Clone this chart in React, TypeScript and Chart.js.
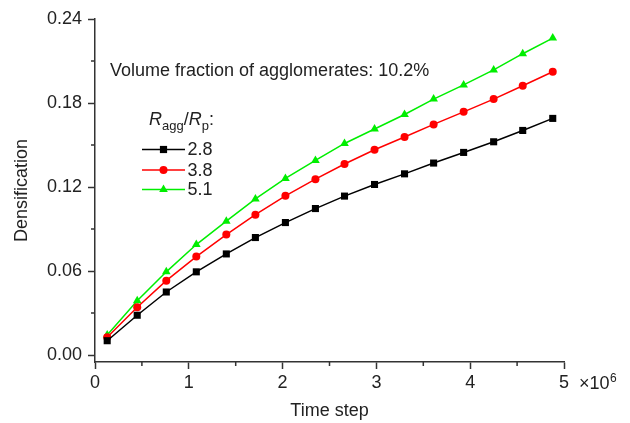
import React, { useEffect, useRef } from 'react';
import { Chart, registerables } from 'chart.js';
Chart.register(...registerables);

// Time step (×10^6)
const timeSteps = [0.13, 0.45, 0.76, 1.08, 1.40, 1.71, 2.03, 2.35, 2.66, 2.98, 3.30, 3.61, 3.93, 4.25, 4.56, 4.88];
// Densification for R_agg/R_p = 2.8, 3.8, 5.1
const dens28 = [0.0102, 0.0284, 0.0450, 0.0594, 0.0722, 0.0839, 0.0946, 0.1046, 0.1135, 0.1218, 0.1294, 0.1371, 0.1447, 0.1523, 0.1604, 0.1690];
const dens38 = [0.0127, 0.0341, 0.0531, 0.0703, 0.0860, 0.1002, 0.1137, 0.1256, 0.1364, 0.1466, 0.1557, 0.1647, 0.1737, 0.1828, 0.1923, 0.2023];
const dens51 = [0.0143, 0.0388, 0.0594, 0.0789, 0.0956, 0.1115, 0.1261, 0.1390, 0.1511, 0.1614, 0.1718, 0.1828, 0.1929, 0.2036, 0.2152, 0.2264];
const seriesLabels = ['2.8', '3.8', '5.1'];
const seriesColors = ['#000000', '#ff0000', '#00ee00'];
const seriesStyles = ['rect', 'circle', 'triangle'];
const yTicks = [0, 0.06, 0.12, 0.18, 0.24];
const yMinor = [0.03, 0.09, 0.15, 0.21];
const xMinor = [0.5, 1.5, 2.5, 3.5, 4.5];
const annotationText = 'Volume fraction of agglomerates: 10.2%';

const FONT_FAMILY = '"Liberation Sans", Arial, sans-serif';
const TEXT_COLOR = '#222222';
const AXIS_COLOR = '#333333';

function drawMarker(ctx: CanvasRenderingContext2D, style: string, x: number, y: number, color: string) {
  ctx.fillStyle = color;
  ctx.beginPath();
  if (style === 'rect') {
    ctx.rect(x - 3.6, y - 3.6, 7.2, 7.2);
  } else if (style === 'circle') {
    ctx.arc(x, y, 4, 0, Math.PI * 2);
  } else {
    const r = 5;
    ctx.moveTo(x, y - r);
    ctx.lineTo(x + r * Math.cos(Math.PI / 6), y + r / 2);
    ctx.lineTo(x - r * Math.cos(Math.PI / 6), y + r / 2);
    ctx.closePath();
  }
  ctx.fill();
}

const overlayPlugin = {
  id: 'overlay',
  afterDraw(chart: any) {
    const ctx: CanvasRenderingContext2D = chart.ctx;
    const xs = chart.scales.x;
    const ys = chart.scales.y;
    const area = chart.chartArea;
    ctx.save();
    // minor ticks
    ctx.strokeStyle = AXIS_COLOR;
    ctx.lineWidth = 1.5;
    ctx.beginPath();
    for (const v of xMinor) {
      const px = xs.getPixelForValue(v);
      ctx.moveTo(px, area.bottom);
      ctx.lineTo(px, area.bottom + 4);
    }
    for (const v of yMinor) {
      const py = ys.getPixelForValue(v);
      ctx.moveTo(area.left, py);
      ctx.lineTo(area.left - 4, py);
    }
    ctx.stroke();

    // ×10^6 next to last x tick
    ctx.fillStyle = TEXT_COLOR;
    ctx.textBaseline = 'alphabetic';
    ctx.textAlign = 'left';
    const x5 = xs.getPixelForValue(5);
    ctx.font = `18px ${FONT_FAMILY}`;
    ctx.fillText('×10', x5 + 15, 389);
    const w10 = ctx.measureText('×10').width;
    ctx.font = `12px ${FONT_FAMILY}`;
    ctx.fillText('6', x5 + 15 + w10 + 0.5, 382);

    // annotation
    ctx.font = `18px ${FONT_FAMILY}`;
    ctx.fillText(annotationText, 110, 75.5);

    // legend title R_agg/R_p:
    let tx = 149;
    const tb = 125;
    const big = `italic 18px ${FONT_FAMILY}`;
    const norm = `18px ${FONT_FAMILY}`;
    const small = `13px ${FONT_FAMILY}`;
    const parts: [string, string, number][] = [
      ['R', big, tb], ['agg', small, tb + 4.5], ['/', norm, tb], ['R', big, tb], ['p', small, tb + 4.5], [':', norm, tb],
    ];
    for (const [t, f, b] of parts) {
      ctx.font = f;
      ctx.fillText(t, tx, b);
      tx += ctx.measureText(t).width;
    }

    // legend entries
    const ly = [149.5, 170, 189.5];
    for (let i = 0; i < seriesLabels.length; i++) {
      ctx.strokeStyle = seriesColors[i];
      ctx.lineWidth = 1.5;
      ctx.beginPath();
      ctx.moveTo(142, ly[i]);
      ctx.lineTo(185, ly[i]);
      ctx.stroke();
      drawMarker(ctx, seriesStyles[i], 163.5, ly[i], seriesColors[i]);
      ctx.fillStyle = TEXT_COLOR;
      ctx.font = `18px ${FONT_FAMILY}`;
      ctx.textBaseline = 'middle';
      ctx.fillText(seriesLabels[i], 187.5, ly[i] + 1);
      ctx.textBaseline = 'alphabetic';
    }
    ctx.restore();
  },
};

export default function App() {
  const canvasRef = useRef<HTMLCanvasElement | null>(null);
  useEffect(() => {
    if (!canvasRef.current) return;
    const font = { family: FONT_FAMILY, size: 18 };
    const allSeries = [dens28, dens38, dens51];
    const chart = new Chart(canvasRef.current, {
      type: 'line',
      data: {
        datasets: allSeries.map((vals, i) => ({
          label: seriesLabels[i],
          data: timeSteps.map((t, j) => ({ x: t, y: vals[j] })),
          borderColor: seriesColors[i],
          backgroundColor: seriesColors[i],
          pointBackgroundColor: seriesColors[i],
          pointBorderColor: seriesColors[i],
          borderWidth: 1.5,
          pointStyle: seriesStyles[i] as any,
          pointRadius: i === 0 ? 5 : i === 1 ? 4 : 5,
          pointBorderWidth: 0,
          tension: 0,
          fill: false,
        })),
      },
      options: {
        animation: false,
        responsive: false,
        devicePixelRatio: 1,
        layout: { padding: { top: 19, right: 66, left: 0, bottom: 0 } },
        plugins: { legend: { display: false }, tooltip: { enabled: false } },
        scales: {
          x: {
            type: 'linear',
            min: 0,
            max: 5,
            afterFit: (s: any) => { s.height = 61; },
            ticks: { stepSize: 1, font, color: TEXT_COLOR, padding: 3, callback: (v: any) => String(v) },
            grid: { drawOnChartArea: false, drawTicks: true, tickLength: 7, color: AXIS_COLOR, tickWidth: 1.5 },
            border: { display: true, color: AXIS_COLOR, width: 1.5 },
            title: { display: true, text: 'Time step', font, color: TEXT_COLOR, padding: { top: 0, bottom: 1 } },
          },
          y: {
            type: 'linear',
            min: -0.005,
            max: 0.24,
            afterBuildTicks: (s: any) => { s.ticks = yTicks.map((v) => ({ value: v })); },
            afterFit: (s: any) => { s.width = 95; },
            ticks: { font, color: TEXT_COLOR, padding: 6, callback: (v: any) => Number(v).toFixed(2) },
            grid: { drawOnChartArea: false, drawTicks: true, tickLength: 7, color: AXIS_COLOR, tickWidth: 1.5 },
            border: { display: true, color: AXIS_COLOR, width: 1.5 },
            title: { display: true, text: 'Densification', font, color: TEXT_COLOR, padding: { top: 11, bottom: 0 } },
          },
        },
      },
      plugins: [overlayPlugin],
    } as any);
    return () => chart.destroy();
  }, []);
  return (
    <div style={{ position: 'absolute', left: 0, top: 0, width: 630, height: 423, background: '#fff' }}>
      <canvas ref={canvasRef} width={630} height={423} />
    </div>
  );
}
